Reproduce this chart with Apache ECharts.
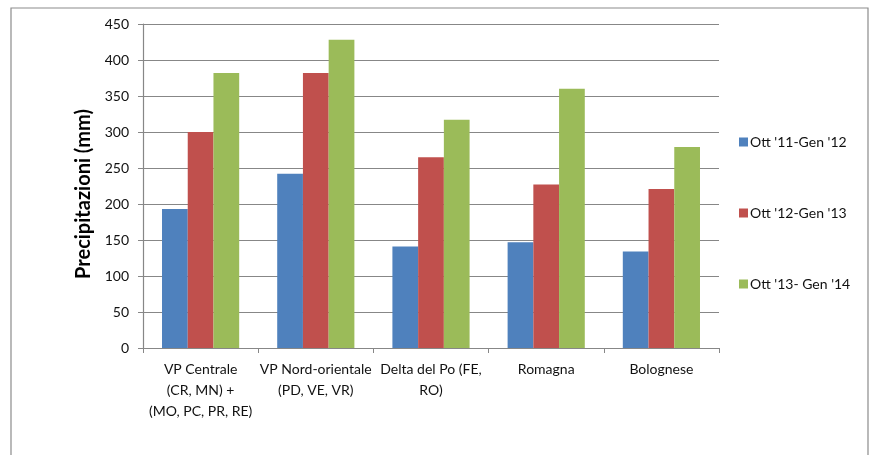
<!DOCTYPE html>
<html>
<head>
<meta charset="utf-8">
<script src="https://cdn.jsdelivr.net/npm/echarts@6/dist/echarts.min.js"></script>
<style>
  html, body { margin: 0; padding: 0; background: #fff; }
  #chart { width: 873px; height: 455px; }
</style>
</head>
<body>
<div id="chart"></div>
<script>
// Precipitation totals (mm) by area, October–January seasons
const regions = [
  'VP Centrale\n(CR, MN) +\n(MO, PC, PR, RE)',
  'VP Nord-orientale\n(PD, VE, VR)',
  'Delta del Po (FE,\nRO)',
  'Romagna',
  'Bolognese'
];
const seriesNames = ["Ott '11-Gen '12", "Ott '12-Gen '13", "Ott '13- Gen '14"];
const season1112 = [193, 242, 141, 147, 134];
const season1213 = [300, 382, 265, 227, 221];
const season1314 = [382, 428, 317, 360, 279];
const yTicks = [0, 50, 100, 150, 200, 250, 300, 350, 400, 450];

const colors = ['#4F81BD', '#C0504D', '#9BBB59'];
const font = 'Lato, "Open Sans", sans-serif';
const axisGrey = '#878787';

const chart = echarts.init(document.getElementById('chart'));
chart.setOption({
  animation: false,
  color: colors,
  textStyle: { fontFamily: font },
  graphic: [{
    type: 'rect',
    shape: { x: 11, y: 8, width: 857, height: 455 },
    style: { fill: 'none', stroke: '#8c8c8c', lineWidth: 1.2 },
    z: -1
  }],
  grid: { left: 143, right: 154, top: 24, bottom: 107, containLabel: false },
  legend: {
    orient: 'vertical',
    left: 739,
    top: 135,
    padding: 0,
    itemWidth: 9,
    itemHeight: 9,
    itemGap: 57,
    icon: 'rect',
    textStyle: { fontSize: 14, lineHeight: 14, color: '#111', fontFamily: font, padding: [0, 0, 0, -3] },
    data: seriesNames
  },
  xAxis: {
    type: 'category',
    data: regions,
    axisLine: { lineStyle: { color: axisGrey, width: 1.2 } },
    axisTick: { show: true, length: 5, alignWithLabel: false, lineStyle: { color: axisGrey } },
    axisLabel: { interval: 0, fontSize: 14, color: '#111', lineHeight: 21, margin: 11, fontFamily: font }
  },
  yAxis: {
    type: 'value',
    min: yTicks[0],
    max: yTicks[yTicks.length - 1],
    interval: 50,
    name: 'Precipitazioni (mm)',
    nameLocation: 'middle',
    nameGap: 41,
    nameTextStyle: { fontSize: 20, fontWeight: 'bold', color: '#000', fontFamily: font, padding: [0, 16, 0, 0] },
    axisLine: { show: true, lineStyle: { color: axisGrey, width: 1.2 } },
    axisTick: { show: true, length: 5, lineStyle: { color: axisGrey } },
    axisLabel: { fontSize: 14, color: '#111', margin: 14, fontFamily: font },
    splitLine: { lineStyle: { color: axisGrey, width: 1.2 } }
  },
  series: [
    { name: seriesNames[0], type: 'bar', data: season1112, barGap: '0%', barCategoryGap: '33%' },
    { name: seriesNames[1], type: 'bar', data: season1213, barGap: '0%', barCategoryGap: '33%' },
    { name: seriesNames[2], type: 'bar', data: season1314, barGap: '0%', barCategoryGap: '33%' }
  ]
});
</script>
</body>
</html>
